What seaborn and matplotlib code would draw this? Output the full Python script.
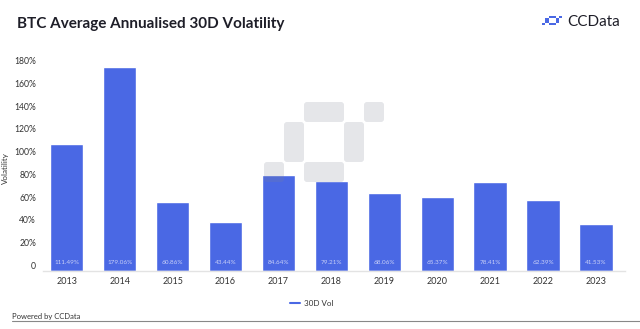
import matplotlib
matplotlib.use("Agg")
import matplotlib.pyplot as plt
import seaborn as sns
import pandas as pd
from matplotlib.patches import FancyBboxPatch, Rectangle
from matplotlib.lines import Line2D

years = ['2013', '2014', '2015', '2016', '2017', '2018', '2019', '2020', '2021', '2022', '2023']
vol = [111.49, 179.06, 60.86, 43.44, 84.64, 79.21, 68.06, 65.37, 78.41, 62.39, 41.53]
yticks = [0, 20, 40, 60, 80, 100, 120, 140, 160, 180]
ytick_labels = ['0', '20%', '40%', '60%', '80%', '100%', '120%', '140%', '160%', '180%']
series_name = '30D Vol'

BLUE = '#4a68e4'
FONT = ['Lato', 'DejaVu Sans']

sns.set_theme(style='white')
plt.rcParams['font.family'] = FONT

W, H = 640, 329
fig = plt.figure(figsize=(W / 100, H / 100), dpi=100)

def fx(x):
    return x / W

def fy(y):
    return 1 - y / H

ax = fig.add_axes([fx(43), fy(271), fx(625) - fx(43), fy(66) - fy(271)])
df = pd.DataFrame({'year': years, 'vol': vol})
sns.barplot(data=df, x='year', y='vol', color=BLUE, saturation=1, width=0.63, ax=ax, zorder=2)

ax.set_xlim(-0.45, 10.55)
ax.set_ylim(0, 180)
ax.set_yticks(yticks)
ax.set_yticklabels(ytick_labels, va='bottom')
ax.tick_params(axis='y', length=0, pad=5, labelsize=6.2, labelcolor='#333333')
ax.tick_params(axis='x', length=0, pad=4, labelsize=6.5, labelcolor='#333333')
ax.set_xlabel('')
ax.set_ylabel('Volatility', fontsize=5.8, color='#333333', labelpad=4)
for s in ['top', 'right', 'left']:
    ax.spines[s].set_visible(False)
ax.spines['bottom'].set_color('#e3e3e3')
ax.spines['bottom'].set_linewidth(1.0)

for i, v in enumerate(vol):
    ax.annotate(f'{v:.2f}%', (i, 0), xytext=(0, 4), textcoords='offset points',
                ha='center', va='bottom', fontsize=4.6, color='#c9d0f7', zorder=3)

# overlay in pixel coordinates for decorations
ov = fig.add_axes([0, 0, 1, 1], zorder=10)
ov.set_xlim(0, W)
ov.set_ylim(H, 0)
ov.axis('off')
ov.patch.set_alpha(0)

pattern = [(2, 0, 2, 1), (5, 0, 1, 1), (1, 1, 1, 2), (4, 1, 1, 2), (2, 3, 2, 1), (0, 3, 1, 1)]

def draw_pattern(x0, y0, ux, uy, rnd, **kw):
    for (c, r, w, h) in pattern:
        x = x0 + c * ux
        y = y0 + r * uy
        if rnd > 0:
            p = FancyBboxPatch((x + rnd, y + rnd), w * ux - 2 * rnd, h * uy - 2 * rnd,
                               boxstyle=f'round,pad={rnd},rounding_size={rnd}',
                               edgecolor='none', **kw)
        else:
            p = Rectangle((x, y), w * ux, h * uy, edgecolor='none', **kw)
        ov.add_patch(p)

# watermark (decorative)
draw_pattern(264, 102, 20, 20, 3, facecolor='#7f8491', alpha=0.2)

# CCData logo
draw_pattern(542, 16, 3.4, 2.3, 0, facecolor=BLUE)

# title
fig.text(fx(17), fy(24), 'BTC Average Annualised 30D Volatility', fontsize=11, fontweight='bold',
         color='#1e1e28', va='center', ha='left')
fig.text(fx(567), fy(22), 'CCData', fontsize=11, color='#1e1e28', va='center', ha='left')

# legend
leg_handle = Line2D([0], [0], color=BLUE, lw=1.5)
fig.legend([leg_handle], [series_name], loc='center', bbox_to_anchor=(fx(312), fy(303)),
           frameon=False, fontsize=5.8, handlelength=1.2, handletextpad=0.6,
           labelcolor='#333333')

# footer
fig.text(fx(12), fy(316), 'Powered by CCData', fontsize=5.5, color='#333333', va='center', ha='left')
ov.plot([12, W], [321, 321], color='#888888', lw=0.8)

fig.savefig('out.png', dpi=100)
